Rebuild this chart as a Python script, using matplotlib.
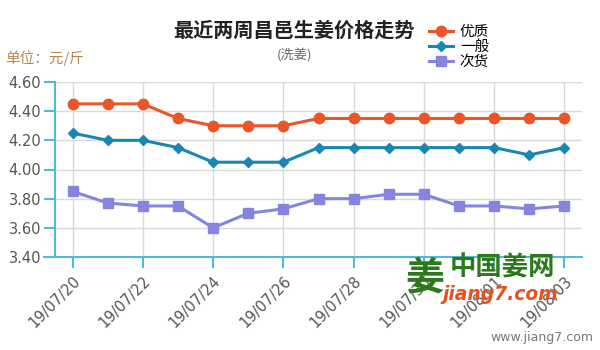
import matplotlib
matplotlib.use("Agg")
import matplotlib.pyplot as plt

plt.rcParams['font.family'] = ['Noto Sans CJK SC', 'DejaVu Sans']

dates = ["19/07/20", "19/07/21", "19/07/22", "19/07/23", "19/07/24", "19/07/25",
         "19/07/26", "19/07/27", "19/07/28", "19/07/29", "19/07/30", "19/07/31",
         "19/08/01", "19/08/02", "19/08/03"]
youzhi = [4.45, 4.45, 4.45, 4.35, 4.30, 4.30, 4.30, 4.35, 4.35, 4.35, 4.35, 4.35, 4.35, 4.35, 4.35]
yiban = [4.25, 4.20, 4.20, 4.15, 4.05, 4.05, 4.05, 4.15, 4.15, 4.15, 4.15, 4.15, 4.15, 4.10, 4.15]
cihuo = [3.85, 3.77, 3.75, 3.75, 3.60, 3.70, 3.73, 3.80, 3.80, 3.83, 3.83, 3.75, 3.75, 3.73, 3.75]
series_names = ["优质", "一般", "次货"]
yticks = [3.40, 3.60, 3.80, 4.00, 4.20, 4.40, 4.60]

fig = plt.figure(figsize=(6, 3.5), dpi=100)
ax = fig.add_axes([55/600, 1-257/350, (582-55)/600, (257-82)/350])

x = list(range(len(dates)))
l1, = ax.plot(x, youzhi, color='#e8562a', lw=2.2, marker='o', ms=7.5, zorder=5)
l2, = ax.plot(x, yiban, color='#1a86b4', lw=2.2, marker='D', ms=5.5, zorder=5)
l3, = ax.plot(x, cihuo, color='#8585e0', lw=2.2, marker='s', ms=7.5, zorder=5)

ax.set_xlim(-0.5, 14.5)
ax.set_ylim(3.40, 4.60)
ax.set_yticks(yticks)
ax.set_yticklabels([f"{v:.2f}" for v in yticks], family='DejaVu Sans', fontsize=10.5, color='#555555')
ax.set_xticks(x[::2])
ax.set_xticklabels(dates[::2], family='DejaVu Sans', fontsize=10.5, color='#555555',
                   rotation=45, ha='right', va='top', rotation_mode='anchor')
ax.grid(True, color='#d9d9d9', lw=1)
ax.set_axisbelow(True)
for s in ['top', 'right']:
    ax.spines[s].set_visible(False)
axis_col = '#4fbcd4'
ax.spines['left'].set_color(axis_col)
ax.spines['bottom'].set_color(axis_col)
ax.spines['left'].set_linewidth(1.5)
ax.spines['bottom'].set_linewidth(1.5)
ax.tick_params(axis='y', colors=axis_col, length=8, width=1.5, labelcolor='#555555', pad=2)
ax.tick_params(axis='x', colors=axis_col, length=8, width=1.5, labelcolor='#555555', pad=4)
ax.spines['bottom'].set_bounds(-0.5 - 11/35.14, 14.5)

fig.text(294/600, 1-30/350, "最近两周昌邑生姜价格走势", ha='center', va='center',
         fontsize=14.5, fontweight='bold', color='#222222')
fig.text(295/600, 1-56/350, "(洗姜)", ha='center', va='center', fontsize=9.5, color='#666666')
fig.text(5/600, 1-58/350, "单位：元/斤", ha='left', va='center', fontsize=10.5, color='#b8864e')

leg = fig.legend([l1, l2, l3], series_names, loc='upper left', bbox_to_anchor=(422/600, 1-18/350),
                 frameon=False, fontsize=10.5, handlelength=1.6, handletextpad=0.5,
                 labelspacing=0.05, borderpad=0)

# watermark logo
fig.text(425/600, 1-278/350, "姜", ha='center', va='center', fontsize=28, color='#2a7a1c', fontweight='bold')
fig.text(502/600, 1-268/350, "中国姜网", ha='center', va='center', fontsize=19, color='#2a7a1c', fontweight='bold')
fig.text(500/600, 1-295/350, "jiang7.com", ha='center', va='center', fontsize=13.5, color='#e8501e',
         fontweight='bold', style='italic', family='DejaVu Sans')
fig.text(593/600, 1-338/350, "www.jiang7.com", ha='right', va='center', fontsize=9, color='#777777',
         family='DejaVu Sans')

fig.savefig("out.png", dpi=100)
